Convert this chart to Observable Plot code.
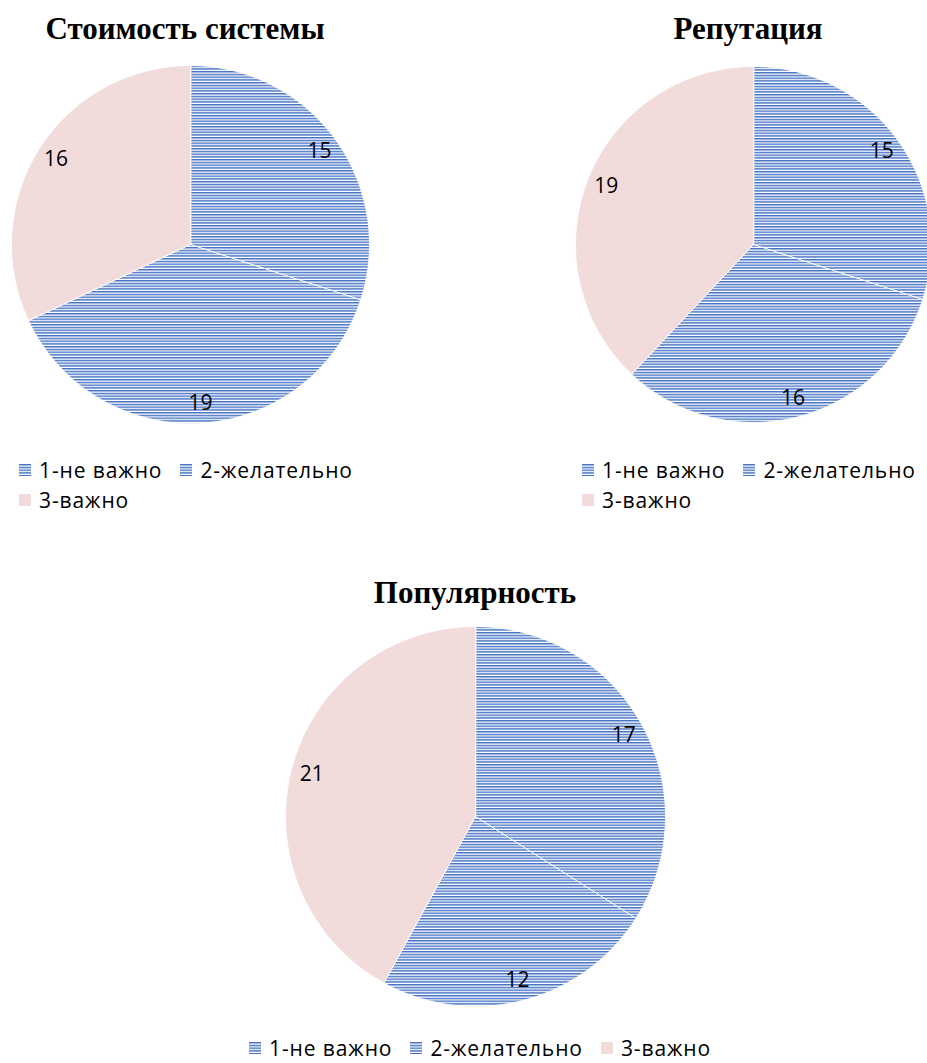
<!DOCTYPE html>
<html><head><meta charset="utf-8">
<script src="https://cdn.jsdelivr.net/npm/d3@7"></script>
<script src="https://cdn.jsdelivr.net/npm/@observablehq/plot@0.6"></script>
<style>
body{margin:0;width:927px;height:1063px;overflow:hidden;position:relative;background:#fff;font-family:"Open Sans",sans-serif;color:#000}
.title{position:absolute;font-family:"Liberation Serif","Times New Roman",serif;font-weight:bold;font-size:31px;line-height:31px;white-space:nowrap;transform:translateX(-50%)}
.pie{position:absolute}
.legend{position:absolute;font-size:21px;letter-spacing:0.9px;line-height:30px;white-space:nowrap}
.row{display:flex;align-items:center;height:30px}
.item{display:flex;align-items:center;margin-right:18px}
.item svg{margin-right:8px}
</style></head>
<body>
<svg width="0" height="0" style="position:absolute">
  <defs>
    <pattern id="hstripes" patternUnits="userSpaceOnUse" width="10" height="2.75">
      <rect width="10" height="2.75" fill="#ffffff"/>
      <rect y="0" width="10" height="1.45" fill="#4472C4"/>
    </pattern>
  </defs>
</svg>
<script>
// ---- data ----
const categories = ["1-не важно", "2-желательно", "3-важно"];
const titles = ["Стоимость системы", "Репутация", "Популярность"];
const costValues = [15, 19, 16];
const reputationValues = [15, 16, 19];
const popularityValues = [17, 12, 21];
const fills = ["url(#hstripes)", "url(#hstripes)", "#F2DCDB"];

function slicesFor(values) {
  const arcs = d3.pie().sort(null)(values);
  return arcs.map((a, i) => {
    const n = Math.max(8, Math.ceil((a.endAngle - a.startAngle) / 0.01));
    const ring = [[0, 0]];
    for (let k = 0; k <= n; k++) {
      const t = a.startAngle + (a.endAngle - a.startAngle) * k / n;
      ring.push([Math.sin(t), -Math.cos(t)]);
    }
    ring.push([0, 0]);
    const mid = (a.startAngle + a.endAngle) / 2;
    return {
      category: categories[i],
      value: values[i],
      geometry: {type: "Polygon", coordinates: [ring]},
      lx: 0.89 * Math.sin(mid),
      ly: -0.89 * Math.cos(mid)
    };
  });
}

function pie(values, r) {
  const data = slicesFor(values);
  return Plot.plot({
    width: 2 * r,
    height: 2 * r,
    margin: 0,
    style: {background: "transparent", overflow: "visible"},
    projection: {type: "identity", inset: 0, domain: {type: "MultiPoint", coordinates: [[-1, -1], [1, 1]]}},
    color: {type: "ordinal", domain: categories, range: fills},
    marks: [
      Plot.geo(data, {geometry: "geometry", fill: "category", stroke: "white", strokeWidth: 1}),
      Plot.text(data, {x: "lx", y: "ly", text: d => String(d.value), fontSize: 21, fontFamily: "Open Sans, sans-serif", fill: "black"})
    ]
  });
}

function addPie(values, cx, cy, r) {
  const el = pie(values, r);
  el.classList.add("pie");
  el.style.left = (cx - r) + "px";
  el.style.top = (cy - r) + "px";
  document.body.appendChild(el);
}

function addTitle(text, cx, baseline) {
  const d = document.createElement("div");
  d.className = "title";
  d.textContent = text;
  d.style.left = cx + "px";
  d.style.top = (baseline - 0.8375 * 31) + "px";
  document.body.appendChild(d);
}

function swatch(i) {
  return `<svg width="12" height="12"><rect width="12" height="12" fill="${fills[i]}"/></svg>`;
}
function item(i) {
  return `<div class="item">${swatch(i)}<span>${categories[i]}</span></div>`;
}
function addLegend(rows, left, top, centerX) {
  const d = document.createElement("div");
  d.className = "legend";
  d.innerHTML = rows.map(r => `<div class="row">${r.map(item).join("")}</div>`).join("");
  d.style.top = top + "px";
  document.body.appendChild(d);
  if (centerX != null) {
    d.style.left = (centerX - (d.offsetWidth - 18) / 2) + "px";
  } else {
    d.style.left = left + "px";
  }
}

addTitle(titles[0], 185, 39);
addTitle(titles[1], 748, 39);
addTitle(titles[2], 475, 603);

addPie(costValues, 190, 244, 179);
addPie(reputationValues, 753, 244, 178);
addPie(popularityValues, 475, 816, 190);

addLegend([[0, 1], [2]], 19, 455, null);
addLegend([[0, 1], [2]], 582, 455, null);
addLegend([[0, 1, 2]], 0, 1033, 480);
</script>
</body></html>
